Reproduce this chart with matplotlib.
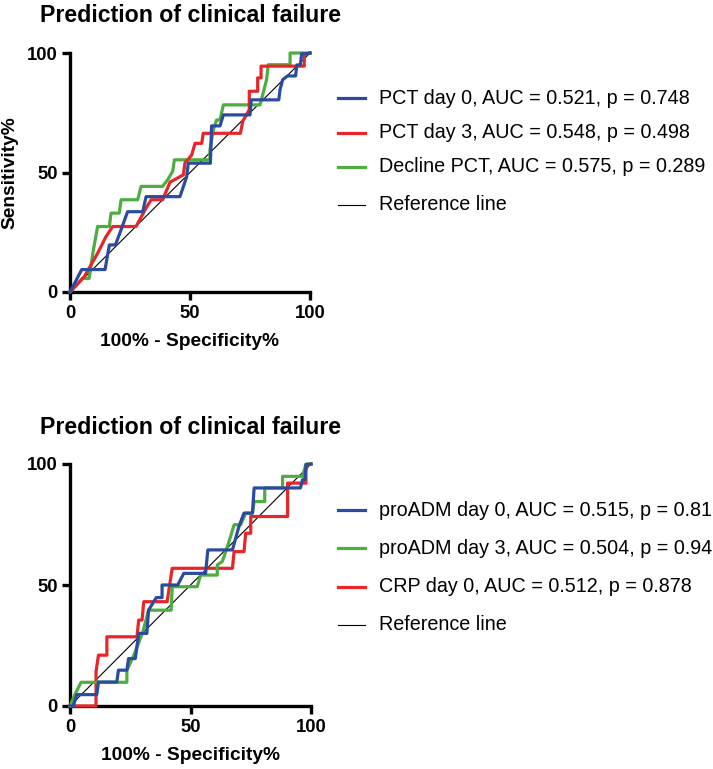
import matplotlib
matplotlib.use("Agg")
import matplotlib.pyplot as plt
from matplotlib.lines import Line2D

plt.rcParams['font.family'] = ['Liberation Sans', 'DejaVu Sans']

BLUE = '#2B4C9E'
RED = '#E8262A'
GREEN = '#4BAE3E'

title_text = "Prediction of clinical failure"
xlabel_text = "100% - Specificity%"
ylabel_text = "Sensitivity%"
ticks = [0, 50, 100]

# ---- Top panel data ----
pct0_x = [0, 4.9, 14.6, 16.4, 18.9, 20.5, 24, 30.3, 31.7, 45.8, 47.2, 48.6, 49.3, 58.5, 59, 62.5, 63.9, 75, 75.5, 87, 87.5, 88.6, 90.6, 94, 94.5, 96, 96.5, 98.6, 100]
pct0_y = [0, 9.4, 9.4, 19.7, 19.7, 23.9, 33.6, 33.6, 39.9, 39.9, 44, 48.2, 53.9, 53.9, 69.5, 69.5, 74.1, 74.1, 80.4, 80.4, 84.6, 88.8, 90.4, 90.4, 95, 95, 99.7, 99.7, 100]

pct3_x = [0, 6, 8, 11.5, 15, 17.8, 27.5, 31.7, 33.8, 38.6, 41.7, 47.2, 47.9, 50.7, 52.1, 54.9, 55.5, 71, 72, 74.7, 74.7, 78.2, 78.2, 79.6, 79.6, 97.6, 97.6, 100]
pct3_y = [0, 6.5, 10, 16.2, 23.2, 27.4, 27.4, 35.1, 38.6, 38.6, 46, 49, 54, 57.3, 62.2, 62.2, 66.4, 66.4, 71.5, 76.3, 84, 84, 89.6, 89.6, 94.5, 94.5, 99.4, 100]

decl_x = [0, 5.3, 8, 9.5, 11.5, 16.4, 17.1, 20.5, 21.3, 28.2, 29.6, 38.6, 40.7, 42.8, 43.5, 58.3, 58.3, 59.7, 61.1, 62.5, 63.9, 79.2, 81.9, 82.6, 91.7, 91.7, 100]
decl_y = [0, 5.7, 5.7, 16.2, 27.4, 27.4, 33, 33, 38.6, 38.6, 44.2, 44.2, 47, 50.5, 55.3, 55.3, 59.4, 67.8, 72, 72, 78.3, 78.3, 88.8, 95.1, 95.1, 100, 100]

top_labels = ["PCT day 0, AUC = 0.521, p = 0.748",
              "PCT day 3, AUC = 0.548, p = 0.498",
              "Decline PCT, AUC = 0.575, p = 0.289",
              "Reference line"]

# ---- Bottom panel data ----
adm0_x = [0, 1.4, 2.8, 11.1, 11.8, 19.4, 20.1, 23.6, 24.3, 27.1, 28.5, 31.9, 32.6, 35.8, 38.2, 38.2, 44.7, 47.2, 56.25, 57.2, 67.4, 70.1, 72.2, 75.7, 76.4, 95.6, 96.5, 97.5, 97.9, 100]
adm0_y = [0, 0, 4.7, 4.7, 9.9, 9.9, 14.8, 14.8, 19.6, 19.6, 30, 30, 39.6, 44.8, 44.8, 50, 50, 54.8, 54.8, 64.5, 64.5, 74.2, 79.7, 79.7, 90.1, 90.1, 93.5, 93.5, 99.7, 100]

adm3_x = [0, 2, 4.6, 23.6, 23.6, 26.7, 30.2, 32.6, 42, 42.4, 52.8, 54.2, 61.1, 61.1, 63.2, 64.6, 66.4, 68.1, 70.8, 72.9, 75.7, 76.4, 80.8, 80.8, 88.2, 88.2, 96.5, 97.9, 100]
adm3_y = [0, 4.7, 9.8, 9.8, 14.7, 21.5, 30.5, 39.6, 39.6, 49.3, 49.3, 54.1, 54.1, 58.3, 59.7, 63.8, 69.3, 74.9, 74.9, 79.7, 79.7, 84.5, 84.5, 90.1, 90.1, 94.9, 94.9, 100, 100]

crp0_x = [0, 10.8, 10.8, 11.8, 15.3, 15.3, 27.8, 28.5, 29.9, 30.6, 40.3, 42.4, 67.4, 68.1, 72.2, 72.9, 75, 75, 90.3, 90.3, 97.9, 97.9, 98.6, 100]
crp0_y = [0, 0, 14.1, 21, 21, 28.6, 28.6, 35.5, 35.5, 43.1, 43.1, 56.9, 56.9, 63.8, 63.8, 71.4, 71.4, 78.3, 78.3, 92.1, 92.1, 97.7, 99.7, 100]

bottom_labels = ["proADM day 0, AUC = 0.515, p = 0.815",
                 "proADM day 3, AUC = 0.504, p = 0.945",
                 "CRP day 0, AUC = 0.512, p = 0.878",
                 "Reference line"]

W, H = 713, 769
fig = plt.figure(figsize=(W / 100, H / 100), dpi=100)


def fx(px):
    return px / W


def fy(py):
    return 1 - py / H


def make_axes(left, top, right, bottom):
    return fig.add_axes([fx(left), fy(bottom), fx(right) - fx(left), fy(top) - fy(bottom)])


def style(ax, ylabel=None):
    ax.set_xlim(0, 100)
    ax.set_ylim(0, 100)
    for s in ['top', 'right']:
        ax.spines[s].set_visible(False)
    for s in ['left', 'bottom']:
        ax.spines[s].set_linewidth(2.4)
        ax.spines[s].set_capstyle('projecting')
    ax.set_xticks(ticks)
    ax.set_yticks(ticks)
    ax.tick_params(direction='out', length=6, width=2.4, labelsize=13.3, pad=3)
    for lab in ax.get_xticklabels() + ax.get_yticklabels():
        lab.set_fontweight('bold')
    ax.set_xlabel(xlabel_text, fontsize=13.8, fontweight='bold', labelpad=8)
    if ylabel:
        ax.set_ylabel(ylabel, fontsize=13.8, fontweight='bold', labelpad=6)


def draw_legend(entries, rows_y):
    for (label, color, lw), y in zip(entries, rows_y):
        fig.add_artist(Line2D([fx(338), fx(365)], [fy(y), fy(y)], color=color, lw=lw,
                              transform=fig.transFigure))
        fig.text(fx(379), fy(y), label, fontsize=14.2, va='center', ha='left')


LW = 2.3

# top panel
ax1 = make_axes(70, 53, 310, 292)
ax1.plot([0, 100], [0, 100], color='black', lw=0.8, zorder=2)
ax1.plot(decl_x, decl_y, color=GREEN, lw=LW, zorder=3, clip_on=False)
ax1.plot(pct3_x, pct3_y, color=RED, lw=LW, zorder=3, clip_on=False)
ax1.plot(pct0_x, pct0_y, color=BLUE, lw=LW, zorder=4, clip_on=False)
style(ax1, ylabel_text)
fig.text(fx(40), fy(15), title_text, fontsize=16.7, fontweight='bold', va='center', ha='left')
draw_legend([(top_labels[0], BLUE, LW), (top_labels[1], RED, LW),
             (top_labels[2], GREEN, LW), (top_labels[3], 'black', 0.8)],
            [98, 133, 167, 205])

# bottom panel
ax2 = make_axes(70, 464, 311, 706)
ax2.plot([0, 100], [0, 100], color='black', lw=0.8, zorder=2)
ax2.plot(crp0_x, crp0_y, color=RED, lw=LW, zorder=3, clip_on=False)
ax2.plot(adm3_x, adm3_y, color=GREEN, lw=LW, zorder=3, clip_on=False)
ax2.plot(adm0_x, adm0_y, color=BLUE, lw=LW, zorder=4, clip_on=False)
style(ax2)
fig.text(fx(40), fy(427), title_text, fontsize=16.7, fontweight='bold', va='center', ha='left')
draw_legend([(bottom_labels[0], BLUE, LW), (bottom_labels[1], GREEN, LW),
             (bottom_labels[2], RED, LW), (bottom_labels[3], 'black', 0.8)],
            [510, 548, 587, 625])

fig.savefig("out.png", dpi=100)
